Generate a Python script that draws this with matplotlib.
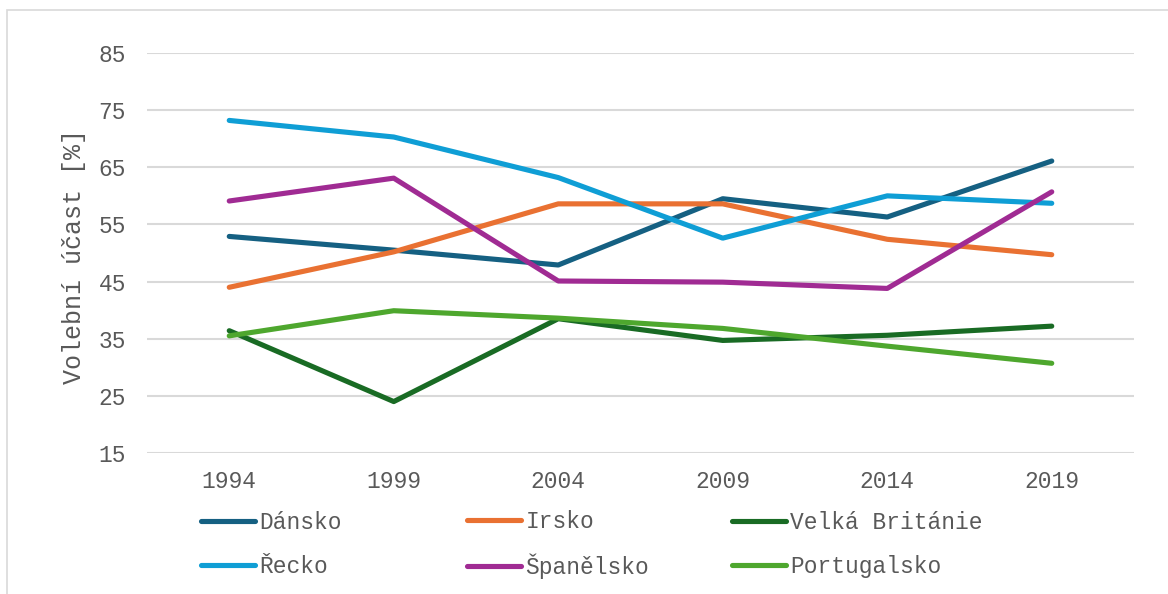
import numpy as np
import matplotlib
matplotlib.use("Agg")
import matplotlib.pyplot as plt
from matplotlib.patches import Rectangle

# Data
years = ["1994", "1999", "2004", "2009", "2014", "2019"]
dansko = [52.9, 50.5, 47.9, 59.5, 56.3, 66.1]
irsko = [44.0, 50.2, 58.6, 58.6, 52.4, 49.7]
velka_britanie = [36.4, 24.0, 38.5, 34.7, 35.6, 37.2]
recko = [73.2, 70.3, 63.2, 52.6, 60.0, 58.7]
spanelsko = [59.1, 63.1, 45.1, 44.9, 43.8, 60.7]
portugalsko = [35.5, 39.9, 38.6, 36.8, 33.7, 30.7]

series = [
    ("Dánsko", dansko, "#156082"),
    ("Irsko", irsko, "#E97132"),
    ("Velká Británie", velka_britanie, "#196B24"),
    ("Řecko", recko, "#0F9ED5"),
    ("Španělsko", spanelsko, "#A02B93"),
    ("Portugalsko", portugalsko, "#4EA72E"),
]

text_color = "#595959"
grid_color = "#D9D9D9"
fs = 16.5

plt.rcParams.update({
    "font.family": ["Liberation Mono", "DejaVu Sans Mono"],
    "font.size": fs,
    "text.color": text_color,
})

W, H = 1168, 594
fig = plt.figure(figsize=(W / 100, H / 100), dpi=100)
ax = fig.add_axes([147 / W, 1 - 453 / H, (1134 - 147) / W, (453 - 53) / H])

x = np.arange(len(years))
handles = []
for name, vals, col in series:
    ln, = ax.plot(x, vals, color=col, linewidth=3.7, solid_capstyle="round",
                  solid_joinstyle="round", label=name, zorder=3)
    handles.append(ln)

ax.set_xlim(-0.5, len(years) - 0.5)
ax.set_ylim(15, 85)
ax.set_yticks(np.arange(15, 86, 10))
ax.set_xticks(x)
ax.set_xticklabels(years)
ax.grid(axis="y", color=grid_color, linewidth=1.5)
ax.set_axisbelow(True)
for s in ax.spines.values():
    s.set_visible(False)
ax.tick_params(axis="both", length=0, colors=text_color, labelsize=fs)
ax.tick_params(axis="x", pad=12)
ax.tick_params(axis="y", pad=15)

ax.set_ylabel("Volební účast [%]", color=text_color, fontsize=18)
ax.yaxis.set_label_coords(-0.062, 0.49)

# legend: three columns with fixed positions, like the original
col_x = [201, 467, 732]
order = [(0, 3), (1, 4), (2, 5)]
for cx, (i, j) in zip(col_x, order):
    leg = fig.legend([handles[i], handles[j]], [series[i][0], series[j][0]],
                     loc="center left", bbox_to_anchor=(cx / W, 1 - 544.5 / H),
                     frameon=False, borderpad=0, borderaxespad=0,
                     handlelength=2.35, handletextpad=0.2, labelspacing=0.9,
                     fontsize=fs)
    for t in leg.get_texts():
        t.set_color(text_color)

# outer chart border (cut off at the right and bottom in the original)
fig.patches.append(Rectangle((7 / W, -0.1), 1.2, 1 - 10 / H + 0.1,
                             transform=fig.transFigure, fill=False,
                             edgecolor=grid_color, linewidth=1.2))

fig.savefig("out.png", dpi=100)
